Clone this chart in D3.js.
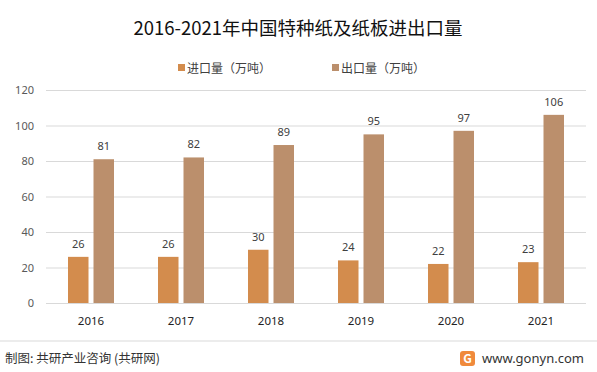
<!DOCTYPE html>
<html>
<head>
<meta charset="utf-8">
<script src="https://cdn.jsdelivr.net/npm/d3@7"></script>
<style>
  body { margin: 0; background: #fff; }
  svg { display: block; font-family: "Noto Sans CJK SC", "Noto Sans", sans-serif; }
</style>
</head>
<body>
<svg id="chart" width="597" height="372"></svg>
<script>
'use strict';

const years = ['2016', '2017', '2018', '2019', '2020', '2021'];
const importVals = [26, 26, 30, 24, 22, 23];
const exportVals = [81, 82, 89, 95, 97, 106];
const seriesNames = ['进口量（万吨）', '出口量（万吨）'];
const seriesColors = ['#D38C4D', '#BB8F6C'];
const yTicks = [0, 20, 40, 60, 80, 100, 120];

const svg = d3.select('#chart');

const x = d3.scaleBand().domain(years).range([46, 586]);
const x1 = d3.scaleBand()
  .domain([0, 1])
  .range([x.bandwidth() / 2 - 23, x.bandwidth() / 2 + 23])
  .paddingInner(0.196);
const y = d3.scaleLinear().domain([0, 120]).range([303, 90]);

// title
svg.append('text')
  .attr('x', 298).attr('y', 35)
  .attr('text-anchor', 'middle')
  .attr('font-size', 18.5)
  .attr('fill', '#111')
  .text('2016-2021年中国特种纸及纸板进出口量');

// legend
const legendX = [178, 332];
seriesNames.forEach(function(name, i) {
  const g = svg.append('g').attr('transform', 'translate(' + legendX[i] + ',68)');
  g.append('rect').attr('x', 0).attr('y', -4).attr('width', 7).attr('height', 7).attr('fill', seriesColors[i]);
  g.append('text').attr('x', 9).attr('y', 4.5).attr('font-size', 12).attr('fill', '#404040').text(name);
});

// gridlines + y labels
const yAxis = d3.axisLeft(y).tickValues(yTicks).tickSize(-540).tickPadding(12);
const ya = svg.append('g').attr('transform', 'translate(46,0)').call(yAxis);
ya.select('.domain').remove();
ya.selectAll('.tick line').attr('stroke', '#D9D9D9').attr('stroke-width', 1);
ya.selectAll('.tick text').attr('font-size', 11).attr('fill', '#595959')
  .attr('font-family', '"Noto Sans", sans-serif');

// bars
const rows = years.map((yr, i) => ({ year: yr, vals: [importVals[i], exportVals[i]] }));
const groups = svg.selectAll('g.grp').data(rows).enter().append('g')
  .attr('class', 'grp')
  .attr('transform', d => 'translate(' + x(d.year) + ',0)');

groups.selectAll('rect').data(d => d.vals.map((v, k) => ({ k: k, v: v }))).enter()
  .append('rect')
  .attr('x', d => x1(d.k))
  .attr('y', d => y(d.v))
  .attr('width', x1.bandwidth())
  .attr('height', d => y(0) - y(d.v))
  .attr('fill', d => seriesColors[d.k]);

groups.selectAll('text.lbl').data(d => d.vals.map((v, k) => ({ k: k, v: v }))).enter()
  .append('text')
  .attr('class', 'lbl')
  .attr('x', d => x1(d.k) + x1.bandwidth() / 2)
  .attr('y', d => y(d.v) - 9)
  .attr('text-anchor', 'middle')
  .attr('font-size', 11)
  .attr('font-family', '"Noto Sans", sans-serif')
  .attr('fill', '#404040')
  .text(d => d.v);

// x axis labels
const xAxis = d3.axisBottom(x).tickSize(0).tickPadding(14);
const xa = svg.append('g').attr('transform', 'translate(0,303)').call(xAxis);
xa.select('.domain').remove();
xa.selectAll('.tick text').attr('font-size', 11.5).attr('fill', '#222')
  .attr('font-family', '"Noto Sans", sans-serif');

// footer
svg.append('line').attr('x1', 0).attr('x2', 597).attr('y1', 341).attr('y2', 341)
  .attr('stroke', '#D9D9D9');
svg.append('text').attr('x', 5).attr('y', 363).attr('font-size', 12.5).attr('fill', '#333')
  .text('制图: 共研产业咨询 (共研网)');
svg.append('rect').attr('x', 460).attr('y', 351).attr('width', 15).attr('height', 15).attr('rx', 3)
  .attr('fill', '#F08A3C');
svg.append('text').attr('x', 467.5).attr('y', 363).attr('text-anchor', 'middle')
  .attr('font-size', 12).attr('font-weight', 'bold').attr('fill', '#fff').text('G');
svg.append('text').attr('x', 482).attr('y', 363).attr('font-size', 13).attr('fill', '#333')
  .attr('font-family', '"Noto Sans", sans-serif')
  .text('www.gonyn.com');
</script>
</body>
</html>
